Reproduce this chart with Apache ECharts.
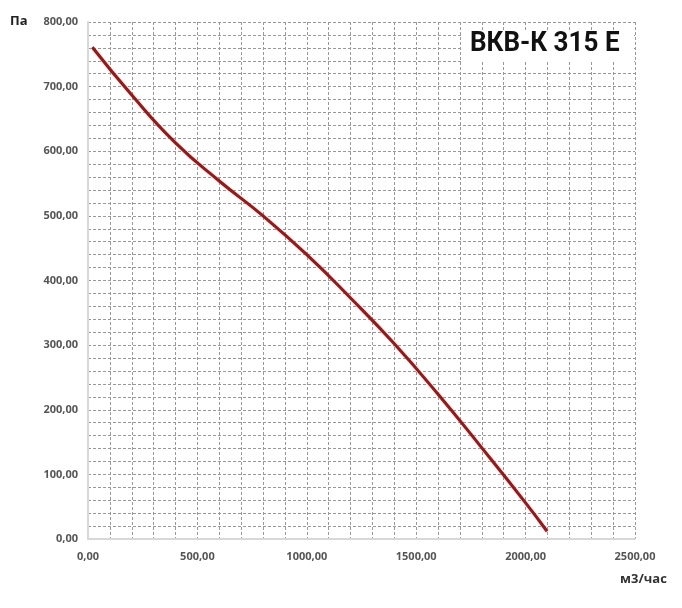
<!DOCTYPE html>
<html><head><meta charset="utf-8">
<script src="https://cdn.jsdelivr.net/npm/echarts@6/dist/echarts.min.js"></script>
<style>html,body{margin:0;padding:0;background:#fff}#c{width:682px;height:608px}</style>
</head><body><div id="c"></div>
<script>
var flow = [20, 200, 400, 600, 800, 1000, 1200, 1400, 1600, 1800, 2000, 2098];
var pressure = [761, 687, 613, 554, 500, 440, 373, 302, 224, 141, 56, 12];
var xTicks = [0, 500, 1000, 1500, 2000, 2500];
var yTicks = [0, 100, 200, 300, 400, 500, 600, 700, 800];
var titleText = 'ВКВ-К 315 E';
var yName = 'Па';
var xName = 'м3/час';

var fmt = function (v) { return v.toFixed(2).replace('.', ','); };
var grid = { left: 88, right: 47, top: 22, bottom: 69 };
var gridLine = { show: true, lineStyle: { color: '#999', width: 1, type: [3, 2] } };
var chart = echarts.init(document.getElementById('c'));
chart.setOption({
  animation: false,
  backgroundColor: '#fff',
  grid: grid,
  xAxis: {
    type: 'value', min: xTicks[0], max: xTicks[xTicks.length - 1], interval: 500,
    axisLine: { show: true, lineStyle: { color: '#d8d8d8', width: 2 } },
    axisTick: { show: false },
    axisLabel: { formatter: fmt, color: '#555', fontSize: 11, fontWeight: 'bold', margin: 12, fontFamily: 'Open Sans' },
    splitLine: gridLine,
    minorTick: { show: false, splitNumber: 5 },
    minorSplitLine: gridLine
  },
  yAxis: {
    type: 'value', min: yTicks[0], max: yTicks[yTicks.length - 1], interval: 100,
    axisLine: { show: true, lineStyle: { color: '#d8d8d8', width: 2 } },
    axisTick: { show: false },
    axisLabel: { formatter: fmt, color: '#555', fontSize: 11, fontWeight: 'bold', margin: 10, fontFamily: 'Open Sans' },
    splitLine: gridLine,
    minorTick: { show: false, splitNumber: 5 },
    minorSplitLine: gridLine
  },
  series: [{
    type: 'line', smooth: true, symbol: 'none',
    data: flow.map(function (f, i) { return [f, pressure[i]]; }),
    lineStyle: { color: '#8e1c1c', width: 3, shadowColor: 'rgba(240,120,120,0.6)', shadowBlur: 2 },
    z: 5
  }],
  graphic: [
    { type: 'rect', left: 462, top: 30, shape: { width: 172, height: 32 }, style: { fill: '#fff' }, z: 10 },
    { type: 'text', x: 470, y: 30, scaleX: 0.93, style: { text: titleText, fill: '#111', font: 'bold 28px Roboto' }, z: 11 },
    { type: 'text', left: 10, top: 15, style: { text: yName, fill: '#222', font: 'bold 13px "Open Sans"' } },
    { type: 'text', left: 620, top: 573, style: { text: xName, fill: '#333', font: 'bold 13px "Open Sans"' } }
  ]
});
</script></body></html>
